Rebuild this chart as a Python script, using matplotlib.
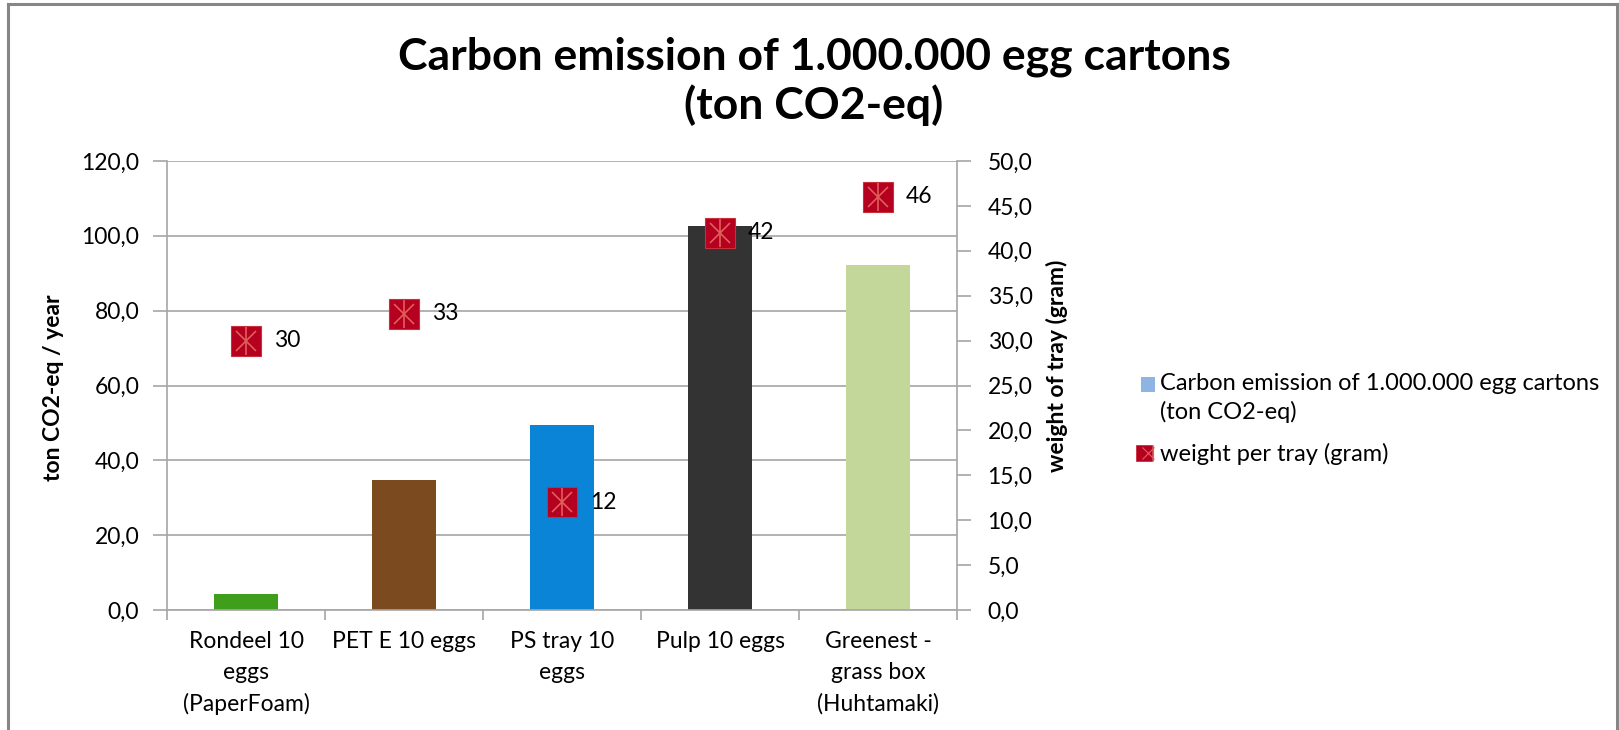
"""
egg carton carbon emission chart
"""

import matplotlib

matplotlib.use("Agg")
import matplotlib.pyplot as plt
from matplotlib.lines import Line2D
from matplotlib.legend_handler import HandlerPatch, HandlerTuple
from matplotlib.patches import Patch, Rectangle
from matplotlib.ticker import FuncFormatter, MultipleLocator

# --------------------------------
#       DATA
# --------------------------------
categories = [
    "Rondeel 10\neggs\n(PaperFoam)",
    "PET E 10 eggs",
    "PS tray 10\neggs",
    "Pulp 10 eggs",
    "Greenest -\ngrass box\n(Huhtamaki)",
]
emission = [4.3, 34.8, 49.5, 102.7, 92.3]
weight = [30, 33, 12, 42, 46]
bar_colors = ["#3f9f1a", "#7b4a1e", "#0a84d6", "#333333", "#c4d79b"]

title = "Carbon emission of 1.000.000 egg cartons\n(ton CO2-eq)"
emission_label = "Carbon emission of 1.000.000 egg cartons\n(ton CO2-eq)"
weight_label = "weight per tray (gram)"

plt.rcParams["font.family"] = ["Lato", "DejaVu Sans"]

GRAY = "#a6a6a6"
RED = "#b5001f"
STAR = "#e0605a"


def comma_fmt(v, _pos):
    return f"{v:.1f}".replace(".", ",")


def upper_patch(legend, orig_handle, xdescent, ydescent, width, height, fontsize):
    # excel puts the key next to the first line of a wrapped label
    return Rectangle((-xdescent, -ydescent + 10), width, height)


W, H = 1619, 730
fig = plt.figure(figsize=(W / 100, H / 100), dpi=100)
ax = fig.add_axes([167 / W, 1 - 610 / H, (957 - 167) / W, (610 - 161) / H])
ax2 = ax.twinx()

x = list(range(len(categories)))
ax.bar(x, emission, width=0.4, color=bar_colors, zorder=2)

# markers: square with asterisk inside (excel star)
ax2.plot(x, weight, ls="none", marker="s", ms=21, mfc=RED, mec="#c8303a", mew=0.8, zorder=3)
ax2.plot(x, weight, ls="none", marker="x", ms=15, mec=STAR, mew=1.2, zorder=4)
ax2.plot(x, weight, ls="none", marker="|", ms=20, mec=STAR, mew=1.2, zorder=4)
for xi, w in zip(x, weight):
    ax2.annotate(
        str(w), (xi, w), xytext=(20, 0), textcoords="offset points",
        va="center", ha="left", fontsize=16.5, color="black", zorder=5,
    )

# axes styling
ax.set_xlim(-0.5, len(categories) - 0.5)
ax.set_ylim(0, 120)
ax2.set_ylim(0, 50)
ax.yaxis.set_major_locator(MultipleLocator(20))
ax2.yaxis.set_major_locator(MultipleLocator(5))
ax.yaxis.set_major_formatter(FuncFormatter(comma_fmt))
ax2.yaxis.set_major_formatter(FuncFormatter(comma_fmt))
ax.grid(axis="y", color=GRAY, lw=1.2, zorder=0)
ax.set_axisbelow(True)

ax.set_xticks(x)
ax.set_xticklabels(categories, fontsize=16.5, linespacing=1.58)
ax.set_xticks([i - 0.5 for i in range(len(categories) + 1)], minor=True)
ax.tick_params(axis="x", which="major", length=0, pad=15)
ax.tick_params(axis="x", which="minor", length=7, width=1.2, color=GRAY)
ax.tick_params(axis="y", length=10, width=1.2, color=GRAY, labelsize=16.5, pad=10)
ax2.tick_params(axis="y", length=10, width=1.2, color=GRAY, labelsize=16.5, pad=12)

for a in (ax, ax2):
    a.spines["top"].set_visible(False)
    for s in ("left", "right", "bottom"):
        a.spines[s].set_color(GRAY)
        a.spines[s].set_linewidth(1.2)
ax.spines["right"].set_visible(False)
ax2.spines["left"].set_visible(False)
ax2.spines["bottom"].set_visible(False)

fig.text(53 / W, 1 - 388 / H, "ton CO2-eq / year", rotation=90, fontsize=16.5,
         fontweight="bold", ha="center", va="center")
fig.text(1057 / W, 1 - 366 / H, "weight of tray (gram)", rotation=90, fontsize=16.5,
         fontweight="bold", ha="center", va="center")

fig.text(814 / W, 1 - 81 / H, title, fontsize=32, fontweight="bold",
         ha="center", va="center", linespacing=1.22)

# legend
h_bar = Patch(facecolor="#8db4e2", edgecolor="none")
h_sq = Line2D([], [], ls="none", marker="s", ms=12, mfc=RED, mec="#c8303a", mew=0.6)
h_x = Line2D([], [], ls="none", marker="x", ms=8, mec=STAR, mew=0.8)
h_v = Line2D([], [], ls="none", marker="|", ms=12, mec=STAR, mew=0.8)
leg = fig.legend(
    [h_bar, (h_sq, h_x, h_v)], [emission_label, weight_label],
    handler_map={
        tuple: HandlerTuple(ndivide=None, pad=0),
        h_bar: HandlerPatch(patch_func=upper_patch),
    },
    loc="center left", bbox_to_anchor=(1120 / W, 1 - 419 / H),
    frameon=False, fontsize=17, handlelength=0.6, handleheight=0.6,
    handletextpad=0.2, labelspacing=0.85,
)
for t in leg.get_texts():
    t.set_linespacing(1.38)

# outer frame
frame_kw = dict(color="#868686", lw=2.2, transform=fig.transFigure)
fig.add_artist(Line2D([8 / W, 8 / W], [0, 1 - 4 / H], **frame_kw))
fig.add_artist(Line2D([8 / W, 1617 / W], [1 - 4 / H, 1 - 4 / H], **frame_kw))
fig.add_artist(Line2D([1617 / W, 1617 / W], [0, 1 - 4 / H], **frame_kw))

fig.savefig("out.png", dpi=100)
